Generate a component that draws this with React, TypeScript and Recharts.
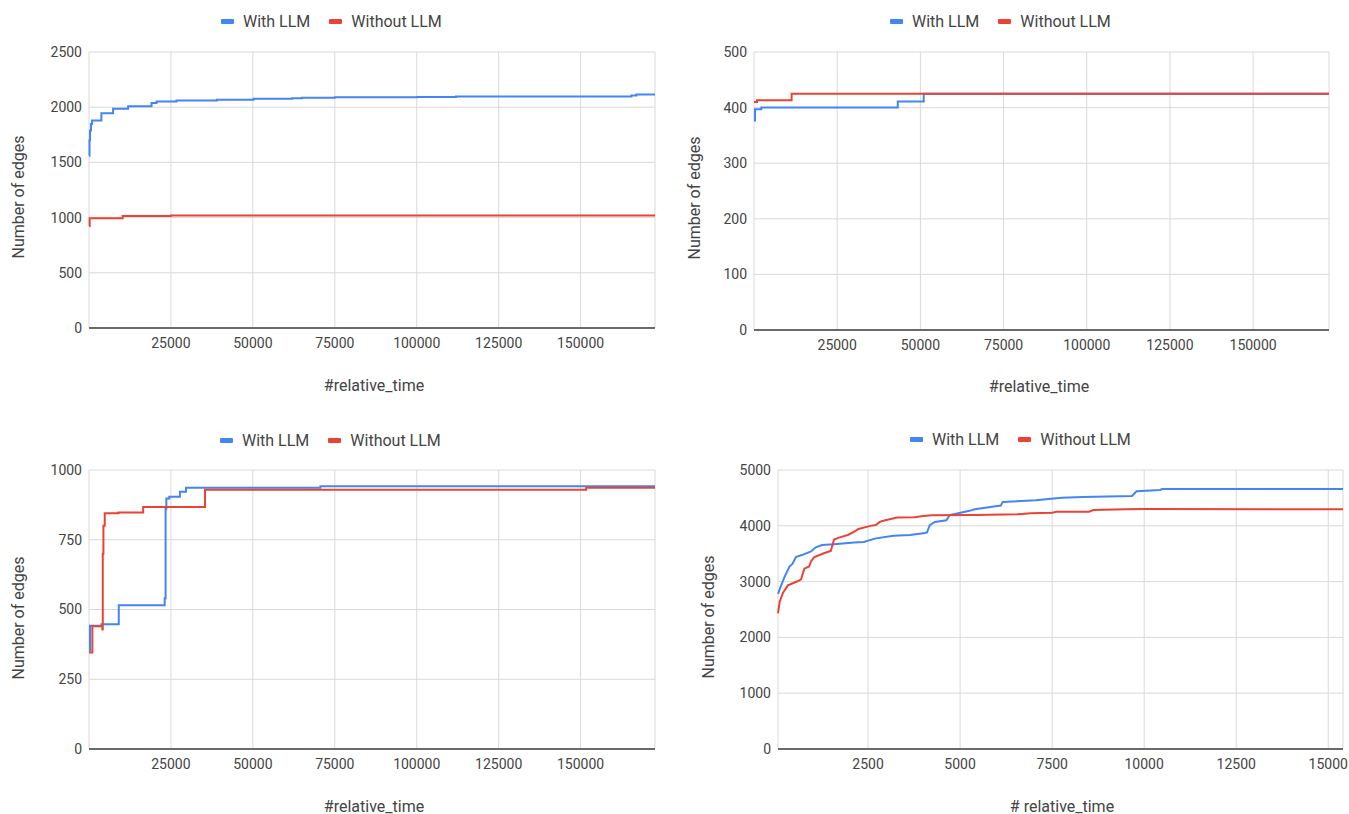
import React from 'react';
import { LineChart, Line, XAxis, YAxis, CartesianGrid } from 'recharts';

const BLUE = '#4285F4';
const RED = '#EA4335';
const TEXT = '#444444';
const FONT = 'Roboto, "Noto Sans", Arial, sans-serif';

const seriesNames = ['With LLM', 'Without LLM'];

// [#relative_time, number of edges]
const runAWith: [number, number][] = [
  [0, 1561], [150, 1700], [300, 1790], [600, 1848], [920, 1879], [3780, 1945],
  [7350, 1985], [11940, 2009], [19080, 2039], [20600, 2052], [26700, 2061],
  [39000, 2067], [50200, 2076], [62000, 2080], [65000, 2086], [75000, 2090],
  [100000, 2093], [112000, 2096], [164000, 2098], [165500, 2106], [167000, 2114],
  [172700, 2114],
];
const runAWithout: [number, number][] = [
  [0, 925], [200, 994], [10260, 1015], [25000, 1018], [172700, 1018],
];

const runBWith: [number, number][] = [
  [0, 377], [300, 397], [2200, 400], [43200, 411], [51000, 425], [172800, 425],
];
const runBWithout: [number, number][] = [
  [0, 410], [900, 413], [11300, 425], [172800, 425],
];

const runCWith: [number, number][] = [
  [0, 352], [300, 442], [3800, 447], [9080, 515], [23100, 540], [23370, 860],
  [23600, 898], [24500, 904], [27750, 922], [29600, 936], [70600, 942], [172700, 942],
];
const runCWithout: [number, number][] = [
  [0, 346], [1020, 440], [4080, 428], [4200, 700], [4400, 800], [4800, 845],
  [9000, 848], [16530, 867], [35400, 929], [151700, 936], [172700, 936],
];

const runDWith: [number, number][] = [
  [54, 2780], [150, 2950], [230, 3080], [366, 3270], [450, 3320], [540, 3440],
  [720, 3480], [950, 3540], [1070, 3610], [1250, 3655], [1576, 3669], [2120, 3699],
  [2383, 3710], [2710, 3775], [3190, 3820], [3640, 3836], [4043, 3872], [4100, 3880],
  [4177, 4010], [4312, 4070], [4627, 4100], [4716, 4190], [5254, 4268], [5400, 4296],
  [6061, 4358], [6100, 4360], [6160, 4425], [7048, 4460], [7765, 4502], [8330, 4515],
  [9670, 4535], [9790, 4620], [10430, 4642], [10490, 4660], [15400, 4660],
];
const runDWithout: [number, number][] = [
  [54, 2430], [100, 2640], [190, 2800], [323, 2932], [600, 3010], [680, 3040],
  [770, 3232], [900, 3270], [950, 3360], [1040, 3441], [1300, 3508], [1488, 3549],
  [1576, 3753], [1710, 3789], [1950, 3836], [2114, 3891], [2240, 3944], [2563, 3999],
  [2710, 4015], [2830, 4075], [2967, 4101], [3290, 4147], [3760, 4153], [4000, 4177],
  [4230, 4189], [5400, 4194], [6570, 4206], [6920, 4224], [7500, 4235], [7620, 4254],
  [8500, 4254], [8620, 4284], [9500, 4296], [10080, 4300], [15400, 4296],
];

const longTimeTicks = [25000, 50000, 75000, 100000, 125000, 150000];
const shortTimeTicks = [2500, 5000, 7500, 10000, 12500, 15000];
const edgeTicksA = [0, 500, 1000, 1500, 2000, 2500];
const edgeTicksB = [0, 100, 200, 300, 400, 500];
const edgeTicksC = [0, 250, 500, 750, 1000];
const edgeTicksD = [0, 1000, 2000, 3000, 4000, 5000];

const toPoints = (pairs: [number, number][]) => pairs.map(([x, y]) => ({ x, y }));

const AxisTitle = ({ px, py, caption, vertical }: any) => (
  <text
    x={px}
    y={py}
    transform={vertical ? `rotate(-90, ${px}, ${py})` : undefined}
    textAnchor="middle"
    dominantBaseline="central"
    fill={TEXT}
    fontSize={16}
    fontFamily={FONT}
  >
    {caption}
  </text>
);

const SeriesKey = ({ left, top }: { left: number; top: number }) => (
  <div
    style={{
      position: 'absolute',
      left,
      top: top - 11,
      height: 22,
      display: 'flex',
      alignItems: 'center',
      fontFamily: FONT,
      fontSize: 16,
      color: TEXT,
      whiteSpace: 'nowrap',
    }}
  >
    {seriesNames.map((name, i) => (
      <div key={name} style={{ display: 'flex', alignItems: 'center', marginRight: i === 0 ? 19 : 0 }}>
        <span
          style={{
            display: 'inline-block',
            width: 13,
            height: 5,
            borderRadius: 1,
            background: i === 0 ? BLUE : RED,
            marginRight: 9,
          }}
        />
        {name}
      </div>
    ))}
  </div>
);

interface PanelProps {
  left: number;
  top: number;
  width: number;
  height: number;
  plotTop: number;
  plotRight: number;
  yAxisWidth: number;
  xAxisHeight: number;
  xDomain: [number, number];
  xTicks: number[];
  yDomain: [number, number];
  yTicks: number[];
  withLlm: [number, number][];
  withoutLlm: [number, number][];
  curve: 'stepAfter' | 'linear';
  keyLeft: number;
  keyTop: number;
  yTitle: [number, number];
  xTitle: [number, number];
  xCaption: string;
}

const Panel = (p: PanelProps) => (
  <div style={{ position: 'absolute', left: p.left, top: p.top, width: p.width, height: p.height }}>
    <LineChart
      width={p.width}
      height={p.height}
      margin={{ top: p.plotTop, right: p.plotRight, bottom: 0, left: 0 }}
    >
      <CartesianGrid stroke="#d9d9d9" strokeWidth={1} />
      <XAxis
        type="number"
        dataKey="x"
        domain={p.xDomain}
        ticks={p.xTicks}
        height={p.xAxisHeight}
        tickLine={false}
        tickSize={0}
        tickMargin={10}
        axisLine={{ stroke: '#6a6a6a', strokeWidth: 2 }}
        tick={{ fill: TEXT, fontSize: 14, fontFamily: FONT }}
        label={<AxisTitle px={p.xTitle[0]} py={p.xTitle[1]} caption={p.xCaption} />}
      />
      <YAxis
        type="number"
        dataKey="y"
        domain={p.yDomain}
        ticks={p.yTicks}
        width={p.yAxisWidth}
        axisLine={false}
        tickLine={false}
        tickSize={0}
        tickMargin={7}
        tick={{ fill: TEXT, fontSize: 14, fontFamily: FONT }}
        label={<AxisTitle px={p.yTitle[0]} py={p.yTitle[1]} caption="Number of edges" vertical />}
      />
      <Line
        data={toPoints(p.withLlm)}
        dataKey="y"
        name={seriesNames[0]}
        type={p.curve}
        stroke={BLUE}
        strokeWidth={2}
        dot={false}
        activeDot={false}
        isAnimationActive={false}
      />
      <Line
        data={toPoints(p.withoutLlm)}
        dataKey="y"
        name={seriesNames[1]}
        type={p.curve}
        stroke={RED}
        strokeWidth={2}
        dot={false}
        activeDot={false}
        isAnimationActive={false}
      />
    </LineChart>
    <SeriesKey left={p.keyLeft} top={p.keyTop} />
  </div>
);

export default function App() {
  return (
    <div style={{ position: 'absolute', left: 0, top: 0, width: 1349, height: 814, background: '#fff' }}>
      <Panel
        left={0} top={0} width={674} height={410}
        plotTop={52} plotRight={19} yAxisWidth={89} xAxisHeight={82}
        xDomain={[0, 172700]} xTicks={longTimeTicks}
        yDomain={[0, 2500]} yTicks={edgeTicksA}
        withLlm={runAWith} withoutLlm={runAWithout} curve="stepAfter"
        keyLeft={221} keyTop={21}
        yTitle={[18, 197]} xTitle={[374, 385]} xCaption="#relative_time"
      />
      <Panel
        left={674} top={0} width={675} height={410}
        plotTop={52} plotRight={20} yAxisWidth={80} xAxisHeight={80}
        xDomain={[0, 172800]} xTicks={longTimeTicks}
        yDomain={[0, 500]} yTicks={edgeTicksB}
        withLlm={runBWith} withoutLlm={runBWithout} curve="stepAfter"
        keyLeft={216} keyTop={21}
        yTitle={[20, 198]} xTitle={[365, 386]} xCaption="#relative_time"
      />
      <Panel
        left={0} top={410} width={674} height={404}
        plotTop={60} plotRight={19} yAxisWidth={89} xAxisHeight={65}
        xDomain={[0, 172700]} xTicks={longTimeTicks}
        yDomain={[0, 1000]} yTicks={edgeTicksC}
        withLlm={runCWith} withoutLlm={runCWithout} curve="stepAfter"
        keyLeft={220} keyTop={30}
        yTitle={[18, 208]} xTitle={[374, 396]} xCaption="#relative_time"
      />
      <Panel
        left={674} top={410} width={675} height={404}
        plotTop={60} plotRight={6} yAxisWidth={104} xAxisHeight={65}
        xDomain={[54, 15400]} xTicks={shortTimeTicks}
        yDomain={[0, 5000]} yTicks={edgeTicksD}
        withLlm={runDWith} withoutLlm={runDWithout} curve="linear"
        keyLeft={236} keyTop={29}
        yTitle={[34, 207]} xTitle={[388, 396]} xCaption="# relative_time"
      />
    </div>
  );
}
